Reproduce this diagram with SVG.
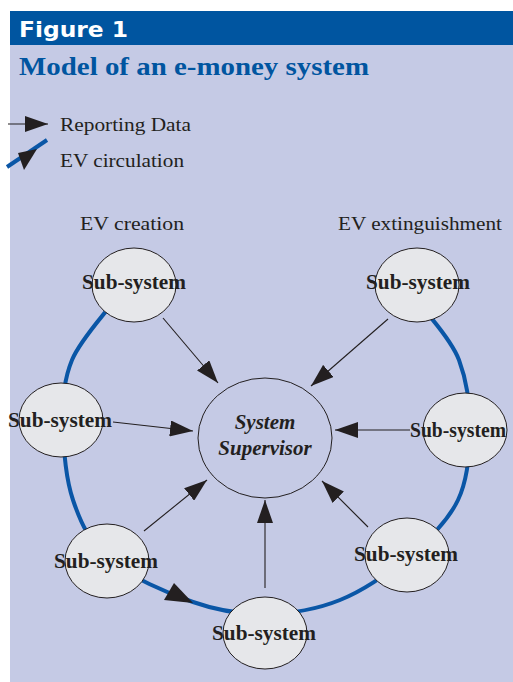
<svg xmlns="http://www.w3.org/2000/svg" width="513" height="682" viewBox="0 0 513 682">
<defs>
<style>
.lbl{font-family:"Liberation Serif","Times New Roman",serif;font-size:19px;fill:#231f20}
.sub{font-family:"Liberation Serif","Times New Roman",serif;font-size:22px;font-weight:bold;fill:#231f20;text-anchor:middle}
.sup{font-family:"Liberation Serif","Times New Roman",serif;font-size:21px;font-weight:bold;font-style:italic;fill:#231f20;text-anchor:middle}
.node{fill:#e6e7ea;stroke:#231f20;stroke-width:1}
.rep{stroke:#231f20;stroke-width:1.1;fill:none;marker-end:url(#ah)}
.ring{stroke:#0a56a6;stroke-width:4;fill:none}
</style>
<marker id="ah" viewBox="0 0 23 16" refX="23" refY="8" markerWidth="23" markerHeight="16" markerUnits="userSpaceOnUse" orient="auto">
<path d="M0,0 L23,8 L0,16 z" fill="#231f20"/>
</marker>
</defs>
<rect x="0" y="0" width="513" height="682" fill="#ffffff"/>
<rect x="10" y="45" width="503" height="637" fill="#c5cae5"/>
<rect x="10" y="11" width="503" height="34" fill="#0055a0"/>
<text x="19" y="37" font-family="'DejaVu Sans',Verdana,sans-serif" font-size="22" font-weight="bold" fill="#ffffff" textLength="109" lengthAdjust="spacingAndGlyphs">Figure 1</text>
<text x="19" y="75" font-family="'Liberation Serif','Times New Roman',serif" font-size="26" font-weight="bold" fill="#0055a0" textLength="350" lengthAdjust="spacingAndGlyphs">Model of an e-money system</text>

<g id="legend">
<line x1="8" y1="124" x2="48" y2="124" class="rep"/>
<text x="60" y="131" class="lbl" textLength="131" lengthAdjust="spacingAndGlyphs">Reporting Data</text>
<line x1="7" y1="167" x2="47" y2="140" class="ring"/>
<path d="M18,153 L37,149 L24,170 z" fill="#231f20"/>
<text x="60" y="167" class="lbl" textLength="124" lengthAdjust="spacingAndGlyphs">EV circulation</text>
</g>
<text x="80" y="230" class="lbl" textLength="104" lengthAdjust="spacingAndGlyphs">EV creation</text>
<text x="338" y="230" class="lbl" textLength="164" lengthAdjust="spacingAndGlyphs">EV extinguishment</text>

<g id="connectors">
<path class="ring" d="M110,306 C103.7,315 79.8,341 72,360 C64.2,379 62.8,396.7 63,420 C63.2,443.3 65.2,476.7 73,500 C80.8,523.3 90,543 110,560 C130,577 167.2,593 193,602 C218.8,611 240.5,614.3 265,614 C289.5,613.7 315.8,609.8 340,600 C364.2,590.2 390.3,571.7 410,555 C429.7,538.3 448,520.8 458,500 C468,479.2 469.8,453.3 470,430 C470.2,406.7 466.5,380 459,360 C451.5,340 430.7,318.3 425,310"/>
<path d="M174,583 L164,600 L193,603 z" fill="#231f20"/>
<line class="rep" x1="163" y1="318" x2="218" y2="383"/>
<line class="rep" x1="388" y1="319" x2="311" y2="386"/>
<line class="rep" x1="113" y1="422" x2="193" y2="431"/>
<line class="rep" x1="410" y1="430" x2="335" y2="430"/>
<line class="rep" x1="144" y1="531" x2="207" y2="480"/>
<line class="rep" x1="368" y1="527" x2="322" y2="481"/>
<line class="rep" x1="265" y1="588" x2="265" y2="500"/>
</g>

<g id="supervisor">
<ellipse class="node" cx="265" cy="438" rx="67" ry="60" style="fill:none"/>
<text class="sup" x="265" y="429">System</text>
<text class="sup" x="265" y="455">Supervisor</text>
</g>
<g id="sub-top-left">
<ellipse class="node" cx="134" cy="285" rx="42" ry="37"/>
<text class="sub" x="134" y="289" textLength="104" lengthAdjust="spacingAndGlyphs">Sub-system</text>
</g>
<g id="sub-top-right">
<ellipse class="node" cx="417" cy="285" rx="42" ry="37"/>
<text class="sub" x="418" y="289" textLength="104" lengthAdjust="spacingAndGlyphs">Sub-system</text>
</g>
<g id="sub-left">
<ellipse class="node" cx="61" cy="420" rx="42" ry="37"/>
<text class="sub" x="60" y="427" textLength="104" lengthAdjust="spacingAndGlyphs">Sub-system</text>
</g>
<g id="sub-right">
<ellipse class="node" cx="465" cy="430" rx="42" ry="37"/>
<text class="sub" x="458" y="437" style="font-size:20px" textLength="96" lengthAdjust="spacingAndGlyphs">Sub-system</text>
</g>
<g id="sub-bottom-left">
<ellipse class="node" cx="107" cy="561" rx="42" ry="37"/>
<text class="sub" x="106" y="568" textLength="104" lengthAdjust="spacingAndGlyphs">Sub-system</text>
</g>
<g id="sub-bottom-right">
<ellipse class="node" cx="407" cy="555" rx="42" ry="37"/>
<text class="sub" x="406" y="561" textLength="104" lengthAdjust="spacingAndGlyphs">Sub-system</text>
</g>
<g id="sub-bottom">
<ellipse class="node" cx="265" cy="633" rx="42" ry="36"/>
<text class="sub" x="264" y="640" textLength="104" lengthAdjust="spacingAndGlyphs">Sub-system</text>
</g>
</svg>
